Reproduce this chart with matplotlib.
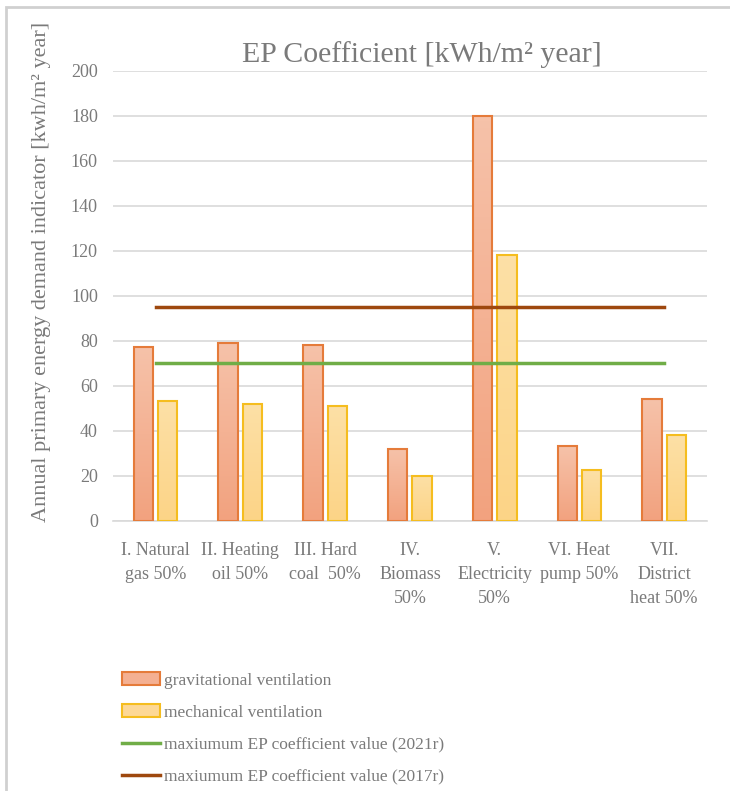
"""EP coefficient bar chart: gravitational vs mechanical ventilation per heat source."""

import matplotlib

matplotlib.use("Agg")
import matplotlib.pyplot as plt  # noqa:E402
import numpy as np  # noqa:E402
from matplotlib.colors import LinearSegmentedColormap  # noqa:E402
from matplotlib.lines import Line2D  # noqa:E402
from matplotlib.patches import Patch, Rectangle  # noqa:E402

CATEGORIES = [
    "I. Natural\ngas 50%",
    "II. Heating\noil 50%",
    "III. Hard\ncoal  50%",
    "IV.\nBiomass\n50%",
    "V.\nElectricity\n50%",
    "VI. Heat\npump 50%",
    "VII.\nDistrict\nheat 50%",
]
GRAVITATIONAL = [77, 79, 78, 32, 180, 33, 54]
MECHANICAL = [53, 52, 51, 20, 118, 22.5, 38]
LIMIT_2021 = [70, 70, 70, 70, 70, 70, 70]
LIMIT_2017 = [95, 95, 95, 95, 95, 95, 95]

TEXT = "#7a7a7a"
GRID = "#d9d9d9"

plt.rcParams["font.family"] = ["Liberation Serif", "DejaVu Serif"]

fig = plt.figure(figsize=(7.3, 7.91), dpi=100)
ax = fig.add_axes([0.155, 0.3417, 0.813, 0.569])

x = np.arange(len(CATEGORIES))
width = 0.228
offset = 0.144


def gradient_bars(bars, top, bottom):
    # Excel-style vertical gradient, light at top, clipped to each bar
    cmap = LinearSegmentedColormap.from_list("g", [bottom, top])
    grad = np.linspace(0, 1, 64).reshape(-1, 1)
    for b in bars:
        x0, w, h = b.get_x(), b.get_width(), b.get_height()
        im = ax.imshow(grad, cmap=cmap, origin="lower", aspect="auto",
                       extent=(x0, x0 + w, 0, h), zorder=2)
        im.set_clip_path(b)


grav = ax.bar(x - offset, GRAVITATIONAL, width, facecolor="none",
              edgecolor="#e57b3a", linewidth=1.5, zorder=3)
mech = ax.bar(x + offset, MECHANICAL, width, facecolor="none",
              edgecolor="#f5bd1f", linewidth=1.5, zorder=3)
gradient_bars(grav, "#f6c2a9", "#f2a27f")
gradient_bars(mech, "#fde0a6", "#fcd487")

ax.plot(x, LIMIT_2021, color="#70ad47", linewidth=2.5, zorder=4)
ax.plot(x, LIMIT_2017, color="#9e480e", linewidth=2.5, zorder=4)

ax.set_xlim(-0.5, len(CATEGORIES) - 0.5)
ax.set_ylim(0, 200)
ax.set_yticks(range(0, 201, 20))
ax.set_xticks(x)
ax.set_xticklabels(CATEGORIES, linespacing=1.55)
ax.tick_params(axis="both", length=0, labelsize=13, labelcolor=TEXT)
ax.tick_params(axis="x", pad=15)
ax.tick_params(axis="y", pad=11)
ax.grid(axis="y", color=GRID, linewidth=1.2, zorder=0)
ax.set_axisbelow(True)
for side in ["top", "right", "left"]:
    ax.spines[side].set_visible(False)
ax.spines["bottom"].set_color(GRID)
ax.spines["bottom"].set_linewidth(1.2)

ax.set_title("EP Coefficient [kWh/m² year]", fontsize=21.5, color=TEXT,
             pad=6)
ax.title.set_x(0.52)
ax.set_ylabel("Annual primary energy demand indicator [kwh/m² year]",
              fontsize=16, color=TEXT)
ax.yaxis.set_label_coords(-0.104, 0.553)

handles = [
    Patch(facecolor="#f4b092", edgecolor="#e57b3a", linewidth=1.5),
    Patch(facecolor="#fdd896", edgecolor="#f5bd1f", linewidth=1.5),
    Line2D([], [], color="#70ad47", linewidth=2.5),
    Line2D([], [], color="#9e480e", linewidth=2.5),
]
labels = [
    "gravitational ventilation",
    "mechanical ventilation",
    "maxiumum EP coefficient value (2021r)",
    "maxiumum EP coefficient value (2017r)",
]
fig.legend(handles, labels, loc="center left", bbox_to_anchor=(0.146, 0.079),
           frameon=False, fontsize=12.5, labelcolor=TEXT, handlelength=2.2,
           handleheight=0.75, handletextpad=0.2, labelspacing=0.9)

# light frame around the chart area, as in the source image
fig.patches.append(Rectangle((6 / 730, -0.1), 1.2, 1.1 - 7 / 791,
                             transform=fig.transFigure, fill=False,
                             edgecolor="#d0d0d0", linewidth=2))

fig.savefig("out.png", dpi=100)
